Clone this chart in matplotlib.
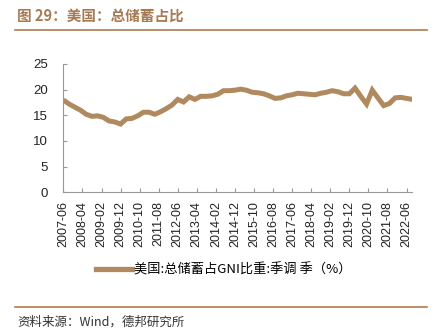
import matplotlib
matplotlib.use("Agg")
import matplotlib.pyplot as plt
import matplotlib.dates as mdates
from matplotlib.lines import Line2D
import pandas as pd

plt.rcParams['font.family'] = ['Liberation Sans', 'Noto Sans CJK SC', 'DejaVu Sans']

title = "图 29：美国：总储蓄占比"
series_name = "美国:总储蓄占GNI比重:季调 季（%）"
source = "资料来源：Wind，德邦研究所"

start_quarter = "2007-06"
end_quarter = "2022-09"
values = [
    18.0, 17.2, 16.6, 16.0, 15.2, 14.8, 14.9, 14.6, 13.9, 13.7,   # 2007Q2-2009Q3
    13.3, 14.3, 14.4, 14.9, 15.6, 15.6, 15.2, 15.7, 16.3, 17.0,   # 2009Q4-2012Q1
    18.1, 17.6, 18.6, 18.1, 18.7, 18.7, 18.8, 19.1, 19.8, 19.8,   # 2012Q2-2014Q3
    19.9, 20.1, 19.9, 19.5, 19.4, 19.2, 18.8, 18.3, 18.4, 18.8,   # 2014Q4-2017Q1
    19.0, 19.3, 19.2, 19.1, 19.0, 19.3, 19.5, 19.8, 19.6, 19.2,   # 2017Q2-2019Q3
    19.2, 20.3, 18.7, 17.2, 19.9, 18.4, 16.9, 17.3, 18.4, 18.5,   # 2019Q4-2022Q1
    18.3, 18.1,                                                   # 2022Q2-2022Q3
]
y_ticks = [0, 5, 10, 15, 20, 25]
tick_start = "2007-06"
tick_end = "2022-06"
tick_step_months = 10

dates = pd.date_range(start_quarter, end_quarter, freq="3MS")
tick_dates = pd.date_range(tick_start, tick_end, freq=f"{tick_step_months}MS")

line_color = "#B08A5E"
title_color = "#A67A52"
rule_color = "#B07A4E"

fig = plt.figure(figsize=(4.45, 3.36), dpi=100)
ax = fig.add_axes([63.3 / 445, 1 - 192.3 / 336, 349.0 / 445, 128.3 / 336])

ax.plot(dates, values, color=line_color, linewidth=3.6, solid_capstyle="butt",
        solid_joinstyle="miter")

ax.set_xlim(dates[0], dates[-1])
ax.set_ylim(0, 25)
ax.set_yticks(y_ticks)
ax.set_xticks(tick_dates)
ax.xaxis.set_major_formatter(mdates.DateFormatter("%Y-%m"))
for lbl in ax.get_xticklabels():
    lbl.set_rotation(90)

for s in ["top", "right"]:
    ax.spines[s].set_visible(False)
for s in ["left", "bottom"]:
    ax.spines[s].set_color("#999999")
    ax.spines[s].set_linewidth(0.8)
ax.tick_params(axis="y", direction="in", length=3, color="#999999", labelsize=9.5,
               pad=11, labelcolor="#222222")
ax.tick_params(axis="x", direction="in", length=3, color="#999999", labelsize=9,
               pad=6, labelcolor="#222222")

# legend
handle = Line2D([], [], color=line_color, linewidth=3.8)
fig.legend([handle], [series_name], loc="center", bbox_to_anchor=(224 / 445, 1 - 270 / 336),
           frameon=False, handlelength=2.7, handletextpad=0.2,
           prop={"family": ["Noto Sans CJK SC", "DejaVu Sans"], "size": 9.5})

# title and rules
fig.text(17 / 445, 1 - 16 / 336, title, color=title_color, fontsize=10.5, fontweight="bold",
         va="center", ha="left", family=["Noto Sans CJK SC", "DejaVu Sans"])
fig.add_artist(Line2D([15 / 445, 427 / 445], [1 - 30 / 336, 1 - 30 / 336],
                      color=rule_color, linewidth=1.2))
fig.add_artist(Line2D([15 / 445, 427 / 445], [1 - 307 / 336, 1 - 307 / 336],
                      color=rule_color, linewidth=1.2))
fig.text(17 / 445, 1 - 322 / 336, source, color="#333333", fontsize=9,
         va="center", ha="left", family=["Noto Sans CJK SC", "DejaVu Sans"])

fig.savefig("out.png", dpi=100, facecolor="white")
